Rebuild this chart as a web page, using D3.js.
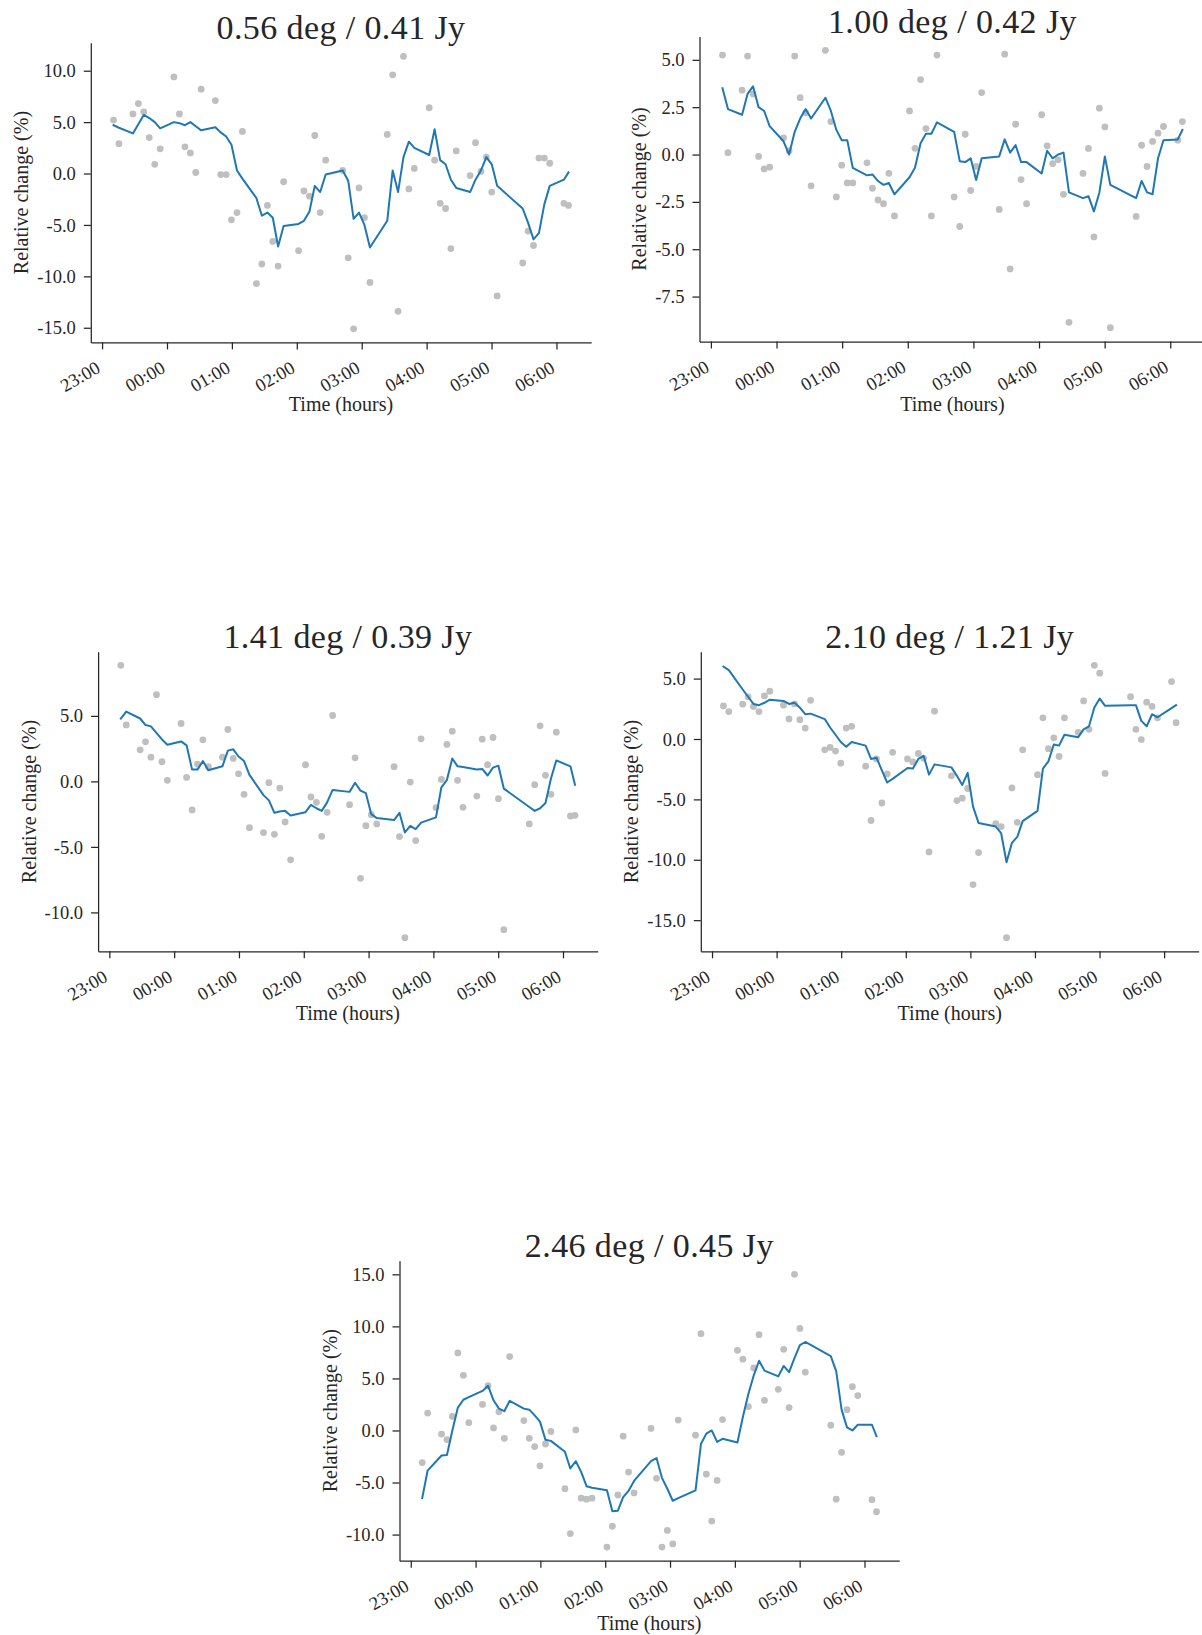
<!DOCTYPE html>
<html>
<head>
<meta charset="utf-8">
<script src="https://cdn.jsdelivr.net/npm/d3@7"></script>
<style>
  html, body { margin: 0; padding: 0; background: #fff; }
  svg { display: block; }
  text { font-family: "Liberation Serif", "DejaVu Serif", serif; fill: #262626; }
</style>
</head>
<body>
<svg id="chart" width="1202" height="1635"></svg>
<script>
// Observation times (UTC), shared by every source
const obsTimes = [
  "23:10:36","23:15:36","23:28:30","23:33:30","23:38:30","23:43:36","23:48:42","23:53:42",
  "00:06:24","00:11:30","00:16:36","00:21:36","00:26:36","00:31:36",
  "00:44:42","00:49:42","00:54:42","00:59:36","01:04:42","01:09:42",
  "01:22:42","01:27:42","01:32:48","01:37:48","01:42:42","01:47:48",
  "02:01:36","02:06:36","02:11:42","02:16:36","02:21:36","02:26:42",
  "02:42:24","02:47:30","02:52:30","02:57:30","03:02:30","03:07:36",
  "03:23:36","03:28:36","03:33:36","03:38:36","03:43:36","03:48:36",
  "04:02:24","04:07:24","04:12:30","04:17:30","04:22:24","04:27:24",
  "04:40:12","04:45:12","04:50:12","04:55:12","05:00:12","05:05:12",
  "05:28:48","05:33:48","05:38:48","05:43:48","05:48:48","05:53:48",
  "06:06:54","06:11:06"
];

const hourTicks = ["23:00","00:00","01:00","02:00","03:00","04:00","05:00","06:00"];

// 0.56 deg / 0.41 Jy
const points056 = [5.2, 2.9, 5.8, 6.8, 6.0, 3.5, 0.9, 2.4, 9.4, 5.8, 2.6, 2.0, 0.1, 8.2, 7.1, -0.1,
  -0.1, -4.5, -3.8, 4.1, -10.7, -8.8, -3.1, -6.6, -9.0, -0.8, -7.5, -1.7, -2.2, 3.7, -3.8, 1.3,
  0.3, -8.2, -15.1, -1.4, -4.3, -10.6, 3.8, 9.6, -13.4, 11.4, -1.5, 0.5, 6.4, 1.3, -2.9, -3.4,
  -7.3, 2.2, -0.2, 3.0, 0.2, 1.6, -1.8, -11.9, -8.7, -5.6, -7.0, 1.5, 1.5, 1.0, -2.9, -3.1];
const trend056 = [4.7, 4.45, 3.9, 4.8, 5.7, 5.4, 5.0, 4.4, 5.0, 4.9, 4.7, 5.0, 4.6, 4.2, 4.5, 4.0,
  3.6, 2.8, 0.3, -0.5, -2.4, -4.1, -3.8, -4.3, -7.1, -5.1, -4.9, -4.6, -3.7, -1.2, -1.8, -0.1,
  0.3, -0.7, -4.4, -3.8, -5.0, -7.2, -4.6, 0.3, -1.8, 1.6, 3.1, 2.5, 1.8, 4.3, 1.3, 0.9,
  -0.6, -1.4, -1.8, -0.6, 0.3, 1.6, 0.9, -1.2, -3.4, -4.8, -6.4, -5.8, -3.0, -1.2, -0.6, 0.1];
const ticks056 = [10, 5, 0, -5, -10, -15];

// 1.00 deg / 0.42 Jy
const points100 = [5.25, 0.1, 3.4, 5.2, 3.2, -0.1, -0.76, -0.67, 0.88, 0.2, 5.2, 3.0, 2.2, -1.65, 5.5, 1.74,
  -2.24, -0.56, -1.5, -1.5, -0.44, -1.78, -2.4, -2.6, -0.99, -3.24, 2.3, 0.33, 3.96, 1.37, -3.24, 5.25,
  -2.24, -3.8, 1.07, -1.9, -0.63, 3.27, -2.9, 5.3, -6.04, 1.6, -1.32, -2.6, 2.1, 0.46, -0.48, -0.28,
  -2.1, -8.86, -1.0, 0.32, -4.35, 2.45, 1.46, -9.14, -3.27, 0.49, -0.63, 0.69, 1.13, 1.48, 0.76, 1.74];
const trend100 = [3.5, 2.4, 2.1, 3.2, 3.6, 2.5, 2.3, 1.5, 0.7, 0.0, 1.2, 1.9, 2.4, 1.9, 3.0, 2.3,
  1.3, 0.75, 0.75, -0.7, -1.1, -1.05, -1.4, -1.6, -1.5, -2.1, -1.2, -0.7, 0.6, 1.1, 1.1, 1.7,
  1.2, -0.35, -0.4, -0.2, -1.35, -0.2, -0.1, 0.8, 0.1, 0.5, -0.4, -0.4, -1.0, 0.2, -0.2, 0.0,
  0.1, -2.0, -2.3, -2.2, -3.0, -2.0, -0.1, -1.6, -2.3, -1.4, -2.0, -2.1, -0.2, 0.75, 0.8, 1.3];
const ticks100 = [5, 2.5, 0, -2.5, -5, -7.5];

// 1.41 deg / 0.39 Jy
const points141 = [8.86, 4.31, 2.41, 3.02, 1.85, 6.62, 1.5, 0.08, 4.42, 0.3, -2.18, 1.32, 3.17, 1.12, 1.85, 3.96,
  1.75, 0.58, -0.99, -3.53, -3.91, -0.1, -4.04, -0.51, -3.1, -5.99, 1.27, -1.19, -1.6, -4.19, -2.36, 5.03,
  -1.78, 1.8, -7.4, -3.38, -2.54, -3.25, 1.12, -4.21, -11.93, -0.05, -4.52, 3.25, -2.0, 0.15, 2.82, 3.83,
  0.08, -1.98, -1.12, 3.22, 1.27, 3.35, -1.32, -11.32, -3.25, -0.25, 4.24, 0.46, -0.99, 3.76, -2.64, -2.59];
const trend141 = [4.8, 5.33, 4.8, 4.3, 4.2, 3.7, 3.2, 2.8, 3.05, 2.75, 0.9, 0.9, 1.55, 0.85, 1.15, 2.35,
  2.45, 1.9, 1.55, 0.5, -1.05, -1.45, -2.4, -2.3, -2.25, -2.6, -2.35, -1.8, -2.05, -2.25, -1.6, -0.65,
  -0.8, -0.1, -0.7, -0.9, -2.5, -2.8, -2.95, -2.4, -3.9, -3.4, -3.65, -3.15, -2.75, -0.45, 0.1, 1.75,
  1.15, 1.1, 0.9, 0.95, 0.45, 1.05, 1.2, -0.55, -1.95, -2.25, -2.05, -1.65, 0.2, 1.6, 1.15, -0.25];
const ticks141 = [5, 0, -5, -10];

// 2.10 deg / 1.21 Jy
const points210 = [2.74, 2.27, 2.88, 3.49, 2.69, 2.27, 3.57, 3.96, 2.8, 1.66, 2.9, 1.6, 0.9, 3.2, -0.9, -0.7,
  -1.0, -2.0, 0.9, 1.05, -2.25, -6.75, -1.65, -5.3, -2.9, -1.1, -1.65, -1.9, -1.2, -1.6, -9.35, 2.3,
  -3.05, -5.1, -4.9, -4.1, -12.05, -9.4, -7.0, -7.25, -16.45, -4.05, -6.9, -0.9, -2.95, 1.75, -0.8, 0.1,
  -1.45, 1.75, 0.55, 3.15, 0.8, 6.1, 5.45, -2.85, 3.5, 0.8, -0.05, 3.05, 2.7, 1.75, 4.75, 1.35];
const trend210 = [6.0, 5.7, 4.1, 3.5, 2.9, 2.8, 3.0, 3.25, 3.15, 2.9, 3.0, 2.6, 2.05, 2.1, 1.65, 0.95,
  0.35, -0.25, -0.65, -0.25, -0.55, -1.65, -1.55, -2.6, -3.6, -3.3, -2.4, -2.45, -1.65, -1.4, -2.95, -2.1,
  -2.35, -3.05, -3.8, -2.8, -5.6, -6.95, -7.25, -7.8, -10.2, -8.6, -8.1, -6.8, -5.95, -2.45, -1.85, -0.45,
  -0.55, 0.35, 0.15, 0.8, 1.05, 2.6, 3.35, 2.75, 2.8, 2.8, 1.5, 1.05, 2.05, 1.8, 2.55, 2.8];
const ticks210 = [5, 0, -5, -10, -15];

// 2.46 deg / 0.45 Jy
const points246 = [-3.08, 1.67, -0.35, -0.87, 1.35, 7.45, 5.3, 0.75, 2.5, 4.3, 0.25, 1.8, -0.75, 7.1, 0.95, -0.75,
  -1.55, -3.4, -1.3, -0.1, -5.6, -9.9, 0.05, -6.5, -6.6, -6.5, -11.2, -9.2, -6.2, -0.55, -4.0, -6.0,
  0.2, -4.6, -11.2, -9.6, -10.9, 1.0, -0.45, 9.3, -4.2, -8.7, -4.8, 1.05, 7.7, 6.85, 2.3, 6.0,
  9.2, 2.9, 3.95, 7.8, 2.2, 15.0, 9.8, 5.6, 0.5, -6.6, -2.1, 2.0, 4.2, 3.35, -6.65, -7.8];
const trend246 = [-6.5, -3.85, -2.4, -2.35, 0.0, 2.2, 2.95, 3.2, 3.8, 4.3, 2.9, 2.1, 1.85, 2.85, 2.1, 2.0,
  1.45, 0.85, -0.9, -1.0, -2.05, -3.65, -2.95, -4.0, -5.35, -5.5, -5.75, -7.75, -7.7, -6.4, -5.8, -4.85,
  -2.95, -2.65, -4.55, -5.6, -6.75, -6.5, -5.75, -1.3, -0.3, 0.0, -1.1, -0.8, -1.15, 1.3, 3.5, 5.3,
  6.7, 5.75, 5.2, 6.2, 5.6, 6.95, 8.2, 8.5, 7.15, 5.7, 2.0, 0.3, 0.0, 0.55, 0.55, -0.55];
const ticks246 = [15, 10, 5, 0, -5, -10];

const titles = ["0.56 deg / 0.41 Jy", "1.00 deg / 0.42 Jy", "1.41 deg / 0.39 Jy",
                "2.10 deg / 1.21 Jy", "2.46 deg / 0.45 Jy"];

// Night runs from 23:00 into the next morning
function toDate(s) {
  const [h, m, sec] = s.split(":").map(Number);
  const day = h >= 12 ? 1 : 2;
  return new Date(Date.UTC(2000, 0, day, h, m, sec || 0));
}
const dates = obsTimes.map(toDate);

// Axes boxes on the page
const panels = [
  { title: titles[0], pts: points056, trend: trend056, ticks: ticks056, box: { l: 90.8, r: 591.2, t: 42.7, b: 342.4 } },
  { title: titles[1], pts: points100, trend: trend100, ticks: ticks100, box: { l: 699.5, r: 1205.4, t: 36.5, b: 341.5 } },
  { title: titles[2], pts: points141, trend: trend141, ticks: ticks141, box: { l: 98.1, r: 597.7, t: 651.7, b: 951.3 } },
  { title: titles[3], pts: points210, trend: trend210, ticks: ticks210, box: { l: 700.8, r: 1198.7, t: 651.7, b: 951.3 } },
  { title: titles[4], pts: points246, trend: trend246, ticks: ticks246, box: { l: 399.5, r: 899.2, t: 1260.7, b: 1560.7 } }
];

const svg = d3.select("#chart");
const spineColor = "#262626";

// pad an extent by 5% on each side
function padded(ext) {
  const d = (ext[1] - ext[0]) * 0.05;
  return [ext[0] - d, ext[1] + d];
}

panels.forEach(p => {
  const { l, r, t, b } = p.box;
  const g = svg.append("g");

  const xExt = padded(d3.extent(dates, d => +d));
  const x = d3.scaleUtc().domain(xExt.map(v => new Date(v))).range([l, r]);
  const yExt = padded(d3.extent(p.pts.concat(p.trend)));
  const y = d3.scaleLinear().domain(yExt).range([b, t]);

  // scatter of individual measurements
  g.append("g").selectAll("circle")
    .data(p.pts)
    .join("circle")
    .attr("cx", (d, i) => x(dates[i]))
    .attr("cy", d => y(d))
    .attr("r", 3.4)
    .attr("fill", "#bfbfbf");

  // smoothed trend
  const line = d3.line().x((d, i) => x(dates[i])).y(d => y(d));
  g.append("path")
    .attr("d", line(p.trend))
    .attr("fill", "none")
    .attr("stroke", "#1f77b4")
    .attr("stroke-width", 2)
    .attr("stroke-linejoin", "round")
    .attr("stroke-linecap", "square");

  // x axis
  const xTickDates = hourTicks.map(s => toDate(s + ":00"));
  const xAxis = d3.axisBottom(x)
    .tickValues(xTickDates)
    .tickFormat(d3.utcFormat("%H:%M"))
    .tickSize(7)
    .tickSizeOuter(0);
  const gx = g.append("g").attr("transform", `translate(0,${b})`).call(xAxis);
  gx.select(".domain").attr("stroke", spineColor).attr("stroke-width", 1.25);
  gx.selectAll(".tick line").attr("stroke", spineColor).attr("stroke-width", 1.25);
  gx.selectAll(".tick text")
    .attr("x", -1).attr("y", 29).attr("dy", null)
    .attr("text-anchor", "end")
    .attr("transform", "rotate(-30,-1,29)")
    .attr("font-size", 18.5)
    .attr("font-family", "Liberation Serif")
    .attr("fill", spineColor);

  // y axis
  const yAxis = d3.axisLeft(y)
    .tickValues(p.ticks)
    .tickFormat(d => d3.format(".1f")(d).replace("\u2212", "-"))
    .tickSize(7)
    .tickPadding(8)
    .tickSizeOuter(0);
  const gy = g.append("g").attr("transform", `translate(${l},0)`).call(yAxis);
  gy.select(".domain").attr("stroke", spineColor).attr("stroke-width", 1.25);
  gy.selectAll(".tick line").attr("stroke", spineColor).attr("stroke-width", 1.25);
  gy.selectAll(".tick text")
    .attr("dy", "0.33em")
    .attr("font-size", 18.5)
    .attr("font-family", "Liberation Serif")
    .attr("fill", spineColor);

  // y label sits just left of the widest tick label
  const minLeft = d3.min(gy.selectAll(".tick text").nodes(), n => n.getBBox().x);
  const lx = l + minLeft - 9;
  const ly = (t + b) / 2;
  g.append("text")
    .attr("transform", `translate(${lx},${ly}) rotate(-90)`)
    .attr("text-anchor", "middle")
    .attr("font-size", 20)
    .text("Relative change (%)");

  // x label
  g.append("text")
    .attr("x", (l + r) / 2)
    .attr("y", b + 69)
    .attr("text-anchor", "middle")
    .attr("font-size", 20)
    .text("Time (hours)");

  // title
  g.append("text")
    .attr("x", (l + r) / 2)
    .attr("y", t - 3.5)
    .attr("text-anchor", "middle")
    .attr("font-size", 34)
    .attr("letter-spacing", 0.4)
    .attr("fill", "#1a1a1a")
    .text(p.title);
});
</script>
</body>
</html>
